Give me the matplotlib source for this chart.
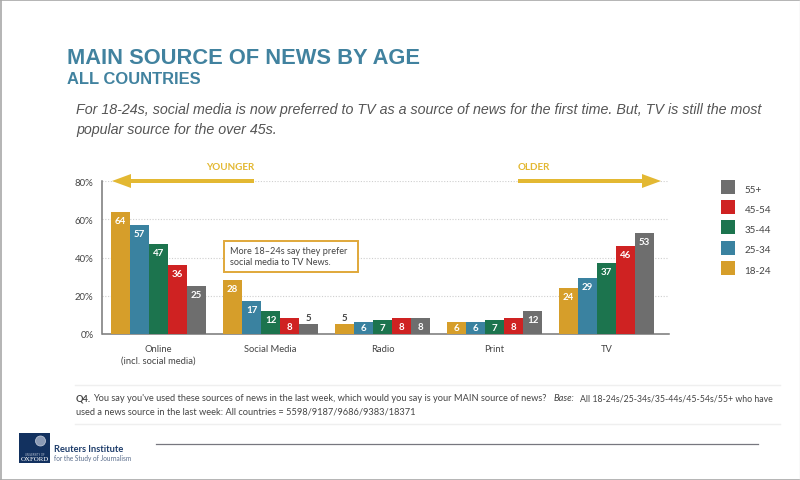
import matplotlib

matplotlib.use("Agg")

import matplotlib.pyplot as plt
import numpy as np
from matplotlib.patches import Circle, FancyArrow, Rectangle

W, H = 800, 481

categories = ["Online\n(incl. social media)", "Social Media", "Radio", "Print", "TV"]
age_groups = ["18-24", "25-34", "35-44", "45-54", "55+"]
age_18_24 = [64, 28, 5, 6, 24]
age_25_34 = [57, 17, 6, 6, 29]
age_35_44 = [47, 12, 7, 7, 37]
age_45_54 = [36, 8, 8, 8, 46]
age_55_plus = [25, 5, 8, 12, 53]
y_ticks = [0, 20, 40, 60, 80]
colors = ["#d69e2a", "#3a82a0", "#1c744e", "#cf2222", "#6e6e6e"]

series = [age_18_24, age_25_34, age_35_44, age_45_54, age_55_plus]
BODY = "Lato"
TEXT = "#444444"

fig = plt.figure(figsize=(W / 100, H / 100), dpi=100, facecolor="white")

# overlay in pixel coords, y going down like the image
page = fig.add_axes([0, 0, 1, 1])
page.set_xlim(0, W)
page.set_ylim(H, 0)
page.axis("off")
page.set_zorder(2)

page.plot([0.5, 0.5], [0, H], color="#a8a8a8", lw=1.2)
page.plot([0, W], [0.5, 0.5], color="#a8a8a8", lw=1.2)
page.plot([0, W], [H - 0.5, H - 0.5], color="#a8a8a8", lw=1.2)
page.plot([W - 0.5, W - 0.5], [0, H], color="#e4e4e4", lw=1)

page.text(67, 58, "MAIN SOURCE OF NEWS BY AGE", family="Liberation Sans", weight="bold",
          fontsize=15.75, color="#41829f", ha="left", va="center")
page.text(67, 79, "ALL COUNTRIES", family="Liberation Sans", weight="bold",
          fontsize=11.9, color="#41829f", ha="left", va="center")
page.text(76, 110, "For 18-24s, social media is now preferred to TV as a source of news for the first time. But, TV is still the most",
          family="Liberation Sans", style="italic", fontsize=10.3, color="#555555", va="center")
page.text(76, 130, "popular source for the over 45s.",
          family="Liberation Sans", style="italic", fontsize=10.3, color="#555555", va="center")

ax = fig.add_axes([102.5 / W, (H - 334.7) / H, 566.5 / W, 152.4 / H])
ax.patch.set_alpha(0)
ax.set_xlim(-0.5, 4.558)
ax.set_ylim(0, 80)

x = np.arange(len(categories))
bar_w = 19 / 112
for i, (vals, col) in enumerate(zip(series, colors)):
    pos = x + (i - 2) * bar_w
    ax.bar(pos, vals, width=bar_w, color=col, zorder=3)
    for px, v in zip(pos, vals):
        if v == 5:
            ax.text(px, v + 1, str(v), ha="center", va="bottom", fontsize=7,
                    family=BODY, weight="bold", color=TEXT, zorder=4)
        else:
            ax.text(px, v - 2 if v > 8 else v / 2, str(v), ha="center",
                    va="top" if v > 8 else "center", fontsize=7,
                    family=BODY, weight="bold", color="white", zorder=4)

ax.set_yticks(y_ticks)
ax.set_yticklabels([f"{t}%" for t in y_ticks], family=BODY, fontsize=6.9, color=TEXT)
ax.set_xticks(x)
ax.set_xticklabels(categories, family=BODY, fontsize=6.75, color=TEXT, linespacing=1.35)
ax.tick_params(length=0)
ax.tick_params(axis="x", pad=7.5)
ax.tick_params(axis="y", pad=6.5)
ax.grid(axis="y", color="#cfcfcf", linestyle=(0, (1, 1.5)), lw=0.8, zorder=0)
for side in ["top", "right"]:
    ax.spines[side].set_visible(False)
for side in ["left", "bottom"]:
    ax.spines[side].set_color("#777777")
    ax.spines[side].set_linewidth(1.1)

# direction arrows
gold = "#e3b832"
page.add_patch(FancyArrow(254, 182, -142, 0, width=4, head_width=14, head_length=19,
                          length_includes_head=True, color=gold, lw=0, zorder=5))
page.add_patch(FancyArrow(518, 182, 143, 0, width=4, head_width=14, head_length=19,
                          length_includes_head=True, color=gold, lw=0, zorder=5))
page.text(230, 168, "YOUNGER", family=BODY, weight="bold", fontsize=7.1, color=gold,
          ha="center", va="center")
page.text(534, 168, "OLDER", family=BODY, weight="bold", fontsize=7.1, color=gold,
          ha="center", va="center")

# callout
page.add_patch(Rectangle((223.5, 241.5), 134, 31, facecolor="white", edgecolor="#e0a83a", lw=1.4, zorder=5))
page.text(230, 257, "More 18–24s say they prefer\nsocial media to TV News.", family=BODY,
          fontsize=6.55, color=TEXT, va="center", linespacing=1.3, zorder=6)

# legend
legend_y = [188, 208, 228, 248.5, 269]
for label, col, ly in zip(age_groups[::-1], colors[::-1], legend_y):
    page.add_patch(Rectangle((721, ly - 7), 14, 14, facecolor=col, edgecolor="none"))
    page.text(744.5, ly + 2.5, label, family=BODY, fontsize=7.1, color=TEXT, va="center")

# footnote
page.plot([75, 780], [385.5, 385.5], color="#efefef", lw=1)
page.plot([75, 780], [424.5, 424.5], color="#efefef", lw=1)
page.text(76, 399, "Q4.", family=BODY, weight="bold", fontsize=6.7, color=TEXT, va="center")
page.text(93, 399, "You say you've used these sources of news in the last week, which would you say is your MAIN source of news?",
          family=BODY, fontsize=6.71, color=TEXT, va="center")
page.text(76, 412, "used a news source in the last week: All countries = 5598/9187/9686/9383/18371",
          family=BODY, fontsize=6.7, color=TEXT, va="center")
page.text(554, 399, "Base:", family=BODY, style="italic", fontsize=6.7, color=TEXT, va="center")
page.text(580, 399, "All 18-24s/25-34s/35-44s/45-54s/55+ who have", family=BODY, fontsize=6.3, color=TEXT, va="center")

# bottom rule and logo
page.plot([156, 758], [445, 445], color="#77777f", lw=0.9)
page.add_patch(Rectangle((19, 434), 31, 30, facecolor="#12315f", edgecolor="none"))
page.add_patch(Circle((40.5, 442), 5, facecolor="#8a9ab5", edgecolor="#c8d0dd", lw=0.5))
page.text(34.5, 455, "UNIVERSITY OF", family="Liberation Sans", fontsize=1.8, color="#c8d0dd", ha="center", va="center")
page.text(35, 459.5, "OXFORD", family="Liberation Serif", fontsize=5, color="white", ha="center", va="center")
page.text(54, 450, "Reuters Institute", family=BODY, weight="bold", fontsize=6.7, color="#1d3c6a", va="center")
page.text(54, 459, "for the Study of Journalism", family=BODY, fontsize=4.7, color="#5a6d8c", va="center")

fig.savefig("out.png", dpi=100)
plt.close(fig)
